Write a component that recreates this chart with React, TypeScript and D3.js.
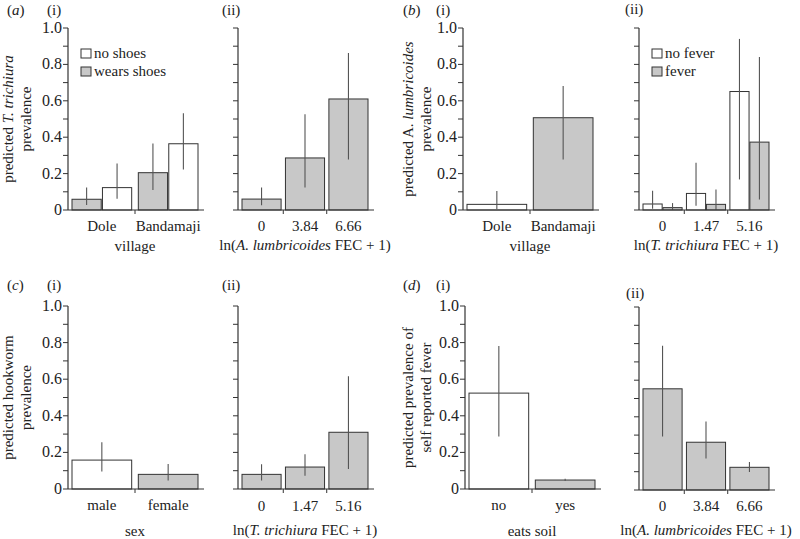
import React from "react";
import * as d3 from "d3";

// predicted T. trichiura prevalence by village and shoe wearing
const villages = ["Dole", "Bandamaji"];
const shoeGroups = ["wears shoes", "no shoes"];
const shoeMean = [[0.059, 0.123], [0.205, 0.364]];
const shoeLow = [[0.027, 0.062], [0.11, 0.223]];
const shoeHigh = [[0.123, 0.256], [0.366, 0.531]];

// predicted T. trichiura prevalence by A. lumbricoides burden
const ascarisLevels = ["0", "3.84", "6.66"];
const trichByAsc = [0.06, 0.286, 0.61];
const trichByAscLow = [0.026, 0.123, 0.278];
const trichByAscHigh = [0.123, 0.526, 0.863];

// predicted A. lumbricoides prevalence by village
const ascByVillage = [0.031, 0.507];
const ascByVillageLow = [0.005, 0.278];
const ascByVillageHigh = [0.104, 0.681];

// predicted A. lumbricoides prevalence by T. trichiura burden and fever
const trichurisLevels = ["0", "1.47", "5.16"];
const feverGroups = ["no fever", "fever"];
const ascFeverMean = [[0.033, 0.013], [0.091, 0.031], [0.651, 0.373]];
const ascFeverLow = [[0.007, 0.0], [0.024, 0.0], [0.168, 0.058]];
const ascFeverHigh = [[0.106, 0.038], [0.26, 0.113], [0.94, 0.841]];

// predicted hookworm prevalence
const sexes = ["male", "female"];
const hookBySex = [0.158, 0.08];
const hookBySexLow = [0.095, 0.047];
const hookBySexHigh = [0.255, 0.137];
const hookByTrich = [0.08, 0.12, 0.31];
const hookByTrichLow = [0.046, 0.073, 0.109];
const hookByTrichHigh = [0.135, 0.19, 0.616];

// predicted prevalence of self reported fever
const soilGroups = ["no", "yes"];
const feverBySoil = [0.524, 0.049];
const feverBySoilLow = [0.287, 0.044];
const feverBySoilHigh = [0.782, 0.056];
const feverByAsc = [0.553, 0.261, 0.124];
const feverByAscLow = [0.292, 0.172, 0.099];
const feverByAscHigh = [0.788, 0.374, 0.153];

const yTicks = d3.range(0, 11).map((i) => i / 10);
const yLabels = [0, 0.2, 0.4, 0.6, 0.8, 1.0];

const GREY = "#c8c8c8";
const WHITE = "#ffffff";
const INK = "#333";
const FONT = "Liberation Serif, Times New Roman, DejaVu Serif, serif";

type PanelProps = {
  ax: number;
  yTop: number;
  yBase: number;
  cats: string[];
  mean: number[][];
  low: number[][];
  high: number[][];
  fills: string[][];
  yLabelsOn?: boolean;
  yTitle?: React.ReactNode[];
  yTitleX?: number[];
  xTitle: React.ReactNode;
  catY: number;
  titleY: number;
  legend?: { names: string[]; fills: string[]; x: number; y: number };
};

const Panel = (p: PanelProps) => {
  const x = d3.scaleBand<string>()
    .domain(p.cats)
    .range([p.ax + 4, p.ax + 130])
    .paddingInner(0.1);
  const nSub = p.mean[0].length;
  const sub = d3.scaleBand<number>()
    .domain(d3.range(nSub))
    .range([0, x.bandwidth()])
    .paddingInner(nSub > 1 ? 0.04 : 0);
  const y = d3.scaleLinear().domain([0, 1]).range([p.yBase, p.yTop]);
  const xEnd = p.ax + 136;
  const midX = (p.ax + 4 + p.ax + 130) / 2;

  return (
    <g>
      {p.cats.map((c, i) =>
        p.mean[i].map((v, j) => {
          const bx = (x(c) as number) + (sub(j) as number);
          const cx = bx + sub.bandwidth() / 2;
          return (
            <g key={c + j}>
              <rect x={bx} y={y(v)} width={sub.bandwidth()} height={p.yBase - y(v)}
                fill={p.fills[i][j]} stroke={INK} strokeWidth={1} />
              <line x1={cx} x2={cx} y1={y(p.low[i][j])} y2={y(p.high[i][j])}
                stroke="#555" strokeWidth={1.1} />
            </g>
          );
        })
      )}
      {/* y axis */}
      <line x1={p.ax} x2={p.ax} y1={p.yTop} y2={p.yBase} stroke={INK} strokeWidth={1.2} />
      {yTicks.map((t) => (
        <line key={t} x1={p.ax - 5} x2={p.ax} y1={y(t)} y2={y(t)} stroke={INK} strokeWidth={1} />
      ))}
      {p.yLabelsOn && yLabels.map((t) => (
        <text key={t} x={p.ax - 6} y={y(t) + 5} textAnchor="end" fontSize={16}>
          {t === 0 ? "0" : t.toFixed(1)}
        </text>
      ))}
      {/* x axis */}
      <line x1={p.ax} x2={xEnd} y1={p.yBase} y2={p.yBase} stroke={INK} strokeWidth={1.2} />
      {p.cats.slice(1).map((c) => {
        const bx = (x(c) as number) - (x.step() - x.bandwidth()) / 2;
        return <line key={c} x1={bx} x2={bx} y1={p.yBase} y2={p.yBase + 4} stroke={INK} strokeWidth={1} />;
      })}
      {p.cats.map((c) => (
        <text key={c} x={(x(c) as number) + x.bandwidth() / 2} y={p.catY} textAnchor="middle" fontSize={15}>
          {c}
        </text>
      ))}
      <text x={midX} y={p.titleY} textAnchor="middle" fontSize={15}>{p.xTitle}</text>
      {p.yTitle && p.yTitle.map((t, i) => (
        <text key={i} transform={`translate(${p.yTitleX![i]},${(p.yTop + p.yBase) / 2}) rotate(-90)`}
          textAnchor="middle" fontSize={15}>{t}</text>
      ))}
      {p.legend && p.legend.names.map((n, i) => (
        <g key={n}>
          <rect x={p.legend!.x} y={p.legend!.y + i * 18} width={10} height={9}
            fill={p.legend!.fills[i]} stroke={INK} strokeWidth={1} />
          <text x={p.legend!.x + 13} y={p.legend!.y + i * 18 + 9} fontSize={15}>{n}</text>
        </g>
      ))}
    </g>
  );
};

const col = (a: number[]) => a.map((v) => [v]);

const App = () => {
  const T1 = 28, B1 = 210, T2 = 306, B2 = 489;
  const it = (s: string) => <tspan fontStyle="italic">{s}</tspan>;
  return (
    <svg width={800} height={539}
      style={{ position: "absolute", left: 0, top: 0, background: "#fff", fontFamily: FONT }}
      fill="#222">
      {/* panel labels */}
      <text x={7} y={15} fontSize={15}>({it("a")})</text>
      <text x={47} y={15} fontSize={15}>(i)</text>
      <text x={222} y={15} fontSize={15}>(ii)</text>
      <text x={403} y={15} fontSize={15}>({it("b")})</text>
      <text x={436} y={15} fontSize={15}>(i)</text>
      <text x={625} y={14} fontSize={15}>(ii)</text>
      <text x={7} y={290} fontSize={15}>({it("c")})</text>
      <text x={47} y={290} fontSize={15}>(i)</text>
      <text x={222} y={290} fontSize={15}>(ii)</text>
      <text x={403} y={290} fontSize={15}>({it("d")})</text>
      <text x={436} y={290} fontSize={15}>(i)</text>
      <text x={626} y={298} fontSize={15}>(ii)</text>

      <Panel ax={68} yTop={T1} yBase={B1} cats={villages} mean={shoeMean} low={shoeLow} high={shoeHigh}
        fills={[[GREY, WHITE], [GREY, WHITE]]} yLabelsOn
        yTitle={[<>predicted {it("T. trichiura")}</>, "prevalence"]} yTitleX={[13, 31]}
        xTitle="village" catY={231} titleY={251}
        legend={{ names: ["no shoes", "wears shoes"], fills: [WHITE, GREY], x: 81, y: 49 }} />
      <Panel ax={238} yTop={T1} yBase={B1} cats={ascarisLevels} mean={col(trichByAsc)}
        low={col(trichByAscLow)} high={col(trichByAscHigh)} fills={[[GREY], [GREY], [GREY]]}
        xTitle={<>ln({it("A. lumbricoides")} FEC + 1)</>} catY={231} titleY={250} />
      <Panel ax={463} yTop={T1} yBase={B1} cats={villages} mean={col(ascByVillage)}
        low={col(ascByVillageLow)} high={col(ascByVillageHigh)} fills={[[WHITE], [GREY]]} yLabelsOn
        yTitle={[<>predicted A. {it("lumbricoides")}</>, "prevalence"]} yTitleX={[413, 431]}
        xTitle="village" catY={231} titleY={251} />
      <Panel ax={639} yTop={T1} yBase={B1} cats={trichurisLevels} mean={ascFeverMean} low={ascFeverLow}
        high={ascFeverHigh} fills={[[WHITE, GREY], [WHITE, GREY], [WHITE, GREY]]}
        xTitle={<>ln({it("T. trichiura")} FEC + 1)</>} catY={231} titleY={250}
        legend={{ names: ["no fever", "fever"], fills: [WHITE, GREY], x: 652, y: 49 }} />

      <Panel ax={68} yTop={T2} yBase={B2} cats={sexes} mean={col(hookBySex)} low={col(hookBySexLow)}
        high={col(hookBySexHigh)} fills={[[WHITE], [GREY]]} yLabelsOn
        yTitle={["predicted hookworm", "prevalence"]} yTitleX={[13, 31]}
        xTitle="sex" catY={510} titleY={536} />
      <Panel ax={238} yTop={T2} yBase={B2} cats={trichurisLevels} mean={col(hookByTrich)}
        low={col(hookByTrichLow)} high={col(hookByTrichHigh)} fills={[[GREY], [GREY], [GREY]]}
        xTitle={<>ln({it("T. trichiura")} FEC + 1)</>} catY={511} titleY={535} />
      <Panel ax={465} yTop={T2} yBase={B2} cats={soilGroups} mean={col(feverBySoil)}
        low={col(feverBySoilLow)} high={col(feverBySoilHigh)} fills={[[WHITE], [GREY]]} yLabelsOn
        yTitle={["predicted prevalence of", "self reported fever"]} yTitleX={[413, 431]}
        xTitle="eats soil" catY={510} titleY={536} />
      <Panel ax={639} yTop={T2 + 1} yBase={B2 + 1} cats={ascarisLevels} mean={col(feverByAsc)}
        low={col(feverByAscLow)} high={col(feverByAscHigh)} fills={[[GREY], [GREY], [GREY]]}
        xTitle={<>ln({it("A. lumbricoides")} FEC + 1)</>} catY={511} titleY={535} />
    </svg>
  );
};

export default App;
